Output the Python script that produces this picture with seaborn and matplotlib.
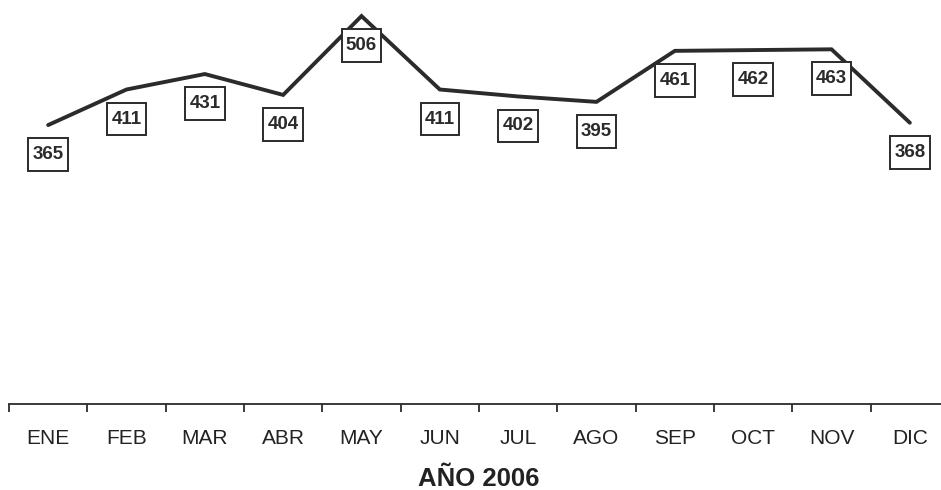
import matplotlib
matplotlib.use("Agg")
import matplotlib.pyplot as plt
from matplotlib.path import Path
import seaborn as sns
import pandas as pd
import numpy as np

months = ["ENE", "FEB", "MAR", "ABR", "MAY", "JUN", "JUL", "AGO", "SEP", "OCT", "NOV", "DIC"]
values = [365, 411, 431, 404, 506, 411, 402, 395, 461, 462, 463, 368]
title = "AÑO 2006"

sns.set_theme(style="white")
plt.rcParams['font.family'] = ['Liberation Sans', 'DejaVu Sans']

dark = "#2b2b2b"
df = pd.DataFrame({"pos": np.arange(len(months)), "value": values, "month": months})


def label_box(x0, y0, width, height, mutation_scale):
    px = 0.22 * mutation_scale
    py = 0.42 * mutation_scale
    x0, y0 = x0 - px, y0 - py
    x1, y1 = x0 + width + 2 * px, y0 + height + 2 * py
    return Path([(x0, y0), (x1, y0), (x1, y1), (x0, y1), (x0, y0)], closed=True)


fig = plt.figure(figsize=(9.41, 4.90), dpi=100)
ax = fig.add_axes([9 / 941, (490 - 404) / 490, 940 / 941, 404 / 490])

sns.lineplot(data=df, x="pos", y="value", ax=ax, color=dark, linewidth=2.8,
             solid_joinstyle="miter", clip_on=False)

for x, v in zip(df["pos"], df["value"]):
    ax.annotate(str(v), (x, v), xytext=(0, -29.5), textcoords="offset pixels",
                ha="center", va="center", fontsize=13.5, fontweight="bold", color=dark,
                bbox=dict(boxstyle=label_box, fc="white", ec=dark, lw=1.4),
                zorder=5, annotation_clip=False)

ax.set_xlim(-0.5, 11.5)
ax.set_ylim(4.1, 526.8)
ax.set_xticks(np.arange(len(months)))
ax.set_xticklabels(months, fontsize=15, color="#222222")
ax.set_xticks(np.arange(len(months) + 1) - 0.5, minor=True)
ax.tick_params(axis="x", which="major", length=0, pad=18)
ax.tick_params(axis="x", which="minor", length=5.8, width=1.3, color=dark, direction="out", bottom=True)
ax.set_yticks([])
for s in ["top", "right", "left"]:
    ax.spines[s].set_visible(False)
ax.spines["bottom"].set_color(dark)
ax.spines["bottom"].set_linewidth(1.3)
ax.set_xlabel(title, fontsize=18.5, fontweight="bold", color="#222222", labelpad=14)
ax.set_ylabel("")
ax.patch.set_alpha(0)

fig.savefig("out.png", dpi=100)
